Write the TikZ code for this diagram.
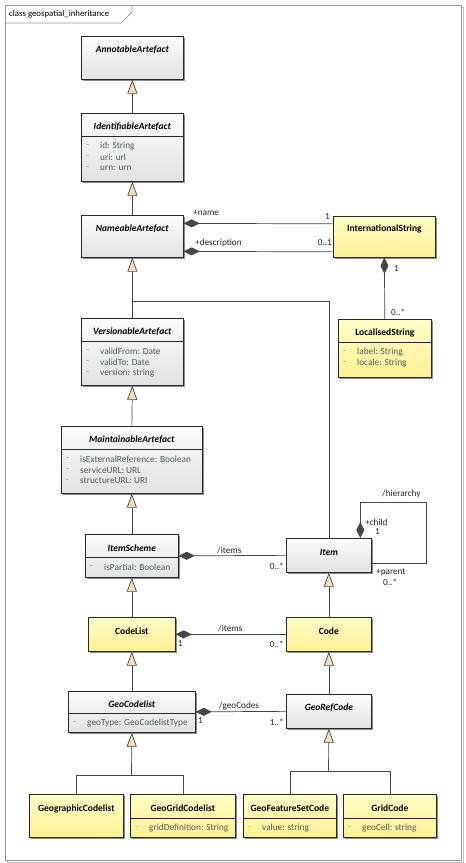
\documentclass[tikz,border=0pt]{standalone}
\usepackage{fontspec}
\setmainfont{Carlito}
\usetikzlibrary{arrows.meta,shadows}
\definecolor{linecol}{RGB}{70,70,70}
\definecolor{boxline}{RGB}{40,40,40}
\definecolor{genfill}{RGB}{245,222,186}
\definecolor{grayA}{RGB}{252,252,252}
\definecolor{grayB}{RGB}{226,226,226}
\definecolor{yelA}{RGB}{255,253,200}
\definecolor{yelB}{RGB}{255,241,150}
\definecolor{attrcol}{RGB}{80,92,92}
\definecolor{framecol}{RGB}{150,150,150}
\newcommand{\umlattr}[4]{%
  \node[dashmark] (#1-d#2) at ([xshift=5pt,yshift=-#3pt]#1.north west) {-};
  \node[attr] (#1-a#2) at ([xshift=19pt,yshift=-#3pt]#1.north west) {#4};}
\newcommand{\umlsep}[1]{%
  \draw[sepline] ([yshift=-23pt]#1.north west) -- ([yshift=-23pt]#1.north east);}
\begin{document}
\begin{tikzpicture}[x=1pt,y=-1pt,
  box/.style={draw=boxline, line width=0.7pt, inner sep=0pt, anchor=north west,
    drop shadow={shadow xshift=1.3pt, shadow yshift=-1.3pt, opacity=0.45, fill=black}},
  graybox/.style={box, top color=grayA, bottom color=grayB},
  yelbox/.style={box, top color=yelA, bottom color=yelB},
  cname/.style={font=\fontsize{9.5}{11}\selectfont\bfseries, inner sep=0pt},
  attr/.style={font=\fontsize{9.3}{11}\selectfont, text=attrcol, inner sep=0pt, anchor=west},
  dashmark/.style={attr, text=attrcol!60},
  lbl/.style={font=\fontsize{9.2}{11}\selectfont, inner sep=0pt, text=black!85},
  conn/.style={draw=linecol, line width=0.7pt},
  gen/.style={conn, -{Triangle[length=14pt,width=10pt,fill=genfill]}},
  comp/.style={conn, {Diamond[length=16pt,width=8pt]}-},
  sepline/.style={draw=boxline, line width=0.6pt}]
\useasboundingbox (0,0) rectangle (466,863);
% frame
\draw[framecol!60, line width=0.8pt] (7,7) rectangle (463,862);
\draw[framecol, line width=0.8pt, fill=white] (5,5) rectangle (461,860);
\draw[framecol, line width=0.7pt] (5,23) -- (121,23) -- (132,12) -- (132,5);
\node[lbl, anchor=west, text=black, font=\fontsize{8.8}{10}\selectfont] (title) at (9,14) {class geospatial\_inheritance};

% classes
\node[graybox, minimum width=102pt, minimum height=43pt] (annot) at (81,36) {};
\node[cname] (annot-n) at ([yshift=-14pt]annot.north) {\textit{AnnotableArtefact}};

\node[graybox, minimum width=102pt, minimum height=68pt] (ident) at (81,113) {};
\node[cname] (ident-n) at ([yshift=-14pt]ident.north) {\textit{IdentifiableArtefact}};
\umlsep{ident}
\umlattr{ident}{1}{33}{id: String}
\umlattr{ident}{2}{44}{uri: url}
\umlattr{ident}{3}{55}{urn: urn}

\node[graybox, minimum width=102pt, minimum height=42pt] (nameable) at (81,215) {};
\node[cname] (nameable-n) at ([yshift=-14pt]nameable.north) {\textit{NameableArtefact}};

\node[yelbox, minimum width=102pt, minimum height=41pt] (intl) at (333,216) {};
\node[cname] (intl-n) at ([yshift=-13pt]intl.north) {InternationalString};

\node[yelbox, minimum width=93pt, minimum height=58pt] (local) at (338,319) {};
\node[cname] (local-n) at ([yshift=-14pt]local.north) {LocalisedString};
\umlsep{local}
\umlattr{local}{1}{33}{label: String}
\umlattr{local}{2}{44}{locale: String}

\node[graybox, minimum width=102pt, minimum height=67pt] (version) at (81,318) {};
\node[cname] (version-n) at ([yshift=-14pt]version.north) {\textit{VersionableArtefact}};
\umlsep{version}
\umlattr{version}{1}{33}{validFrom: Date}
\umlattr{version}{2}{44}{validTo: Date}
\umlattr{version}{3}{55}{version: string}

\node[graybox, minimum width=141pt, minimum height=67pt] (maint) at (61,426) {};
\node[cname] (maint-n) at ([yshift=-14pt]maint.north) {\textit{MaintainableArtefact}};
\umlsep{maint}
\umlattr{maint}{1}{33}{isExternalReference: Boolean}
\umlattr{maint}{2}{44}{serviceURL: URL}
\umlattr{maint}{3}{55}{structureURL: URI}

\node[graybox, minimum width=93pt, minimum height=43pt] (itemscheme) at (85,534) {};
\node[cname] (itemscheme-n) at ([yshift=-14pt]itemscheme.north) {\textit{ItemScheme}};
\umlsep{itemscheme}
\umlattr{itemscheme}{1}{33}{isPartial: Boolean}

\node[graybox, minimum width=85pt, minimum height=34pt] (item) at (286,538) {};
\node[cname] (item-n) at ([yshift=-14pt]item.north) {\textit{Item}};

\node[yelbox, minimum width=87pt, minimum height=34pt] (codelist) at (88,617) {};
\node[cname] (codelist-n) at ([yshift=-14pt]codelist.north) {CodeList};

\node[yelbox, minimum width=85pt, minimum height=34pt] (code) at (286,617) {};
\node[cname] (code-n) at ([yshift=-14pt]code.north) {Code};

\node[graybox, minimum width=127pt, minimum height=41pt] (geocl) at (68,691) {};
\node[cname] (geocl-n) at ([yshift=-13pt]geocl.north) {\textit{GeoCodelist}};
\draw[sepline] ([yshift=-22pt]geocl.north west) -- ([yshift=-22pt]geocl.north east);
\umlattr{geocl}{1}{32}{geoType: GeoCodelistType}

\node[graybox, minimum width=85pt, minimum height=34pt] (georef) at (286,694) {};
\node[cname] (georef-n) at ([yshift=-14pt]georef.north) {\textit{GeoRefCode}};

\node[yelbox, minimum width=94pt, minimum height=43pt] (geographic) at (29,794) {};
\node[cname] (geographic-n) at ([yshift=-15pt]geographic.north) {GeographicCodelist};

\node[yelbox, minimum width=105pt, minimum height=43pt] (geogrid) at (130,794) {};
\node[cname] (geogrid-n) at ([yshift=-14pt]geogrid.north) {GeoGridCodelist};
\draw[sepline] ([yshift=-24pt]geogrid.north west) -- ([yshift=-24pt]geogrid.north east);
\umlattr{geogrid}{1}{34}{gridDefinition: String}

\node[yelbox, minimum width=93pt, minimum height=43pt] (geofeat) at (243,794) {};
\node[cname] (geofeat-n) at ([yshift=-14pt]geofeat.north) {GeoFeatureSetCode};
\draw[sepline] ([yshift=-24pt]geofeat.north west) -- ([yshift=-24pt]geofeat.north east);
\umlattr{geofeat}{1}{34}{value: string}

\node[yelbox, minimum width=93pt, minimum height=43pt] (gridcode) at (343,794) {};
\node[cname] (gridcode-n) at ([yshift=-14pt]gridcode.north) {GridCode};
\draw[sepline] ([yshift=-24pt]gridcode.north west) -- ([yshift=-24pt]gridcode.north east);
\umlattr{gridcode}{1}{34}{geoCell: string}

% junction coordinates
\coordinate (jnv) at (132,301);
\coordinate (jngc) at (131.5,775);
\coordinate (jngr) at (328.5,771);
\coordinate (hier) at (426,502);

% generalizations
\draw[gen] (ident.north) -- (annot.south);
\draw[gen] (nameable.north) -- (ident.south);
\draw[gen] (version.north) -- (nameable.south);
\draw[conn] (item.north) |- (jnv);
\draw[gen] (maint.north) -- (version.south);
\draw[gen] (itemscheme.north) -- (maint.south);
\draw[gen] (codelist.north) -- (itemscheme.south);
\draw[gen] (geocl.north) -- (codelist.south);
\draw[conn] (geographic.north) |- (jngc);
\draw[conn] (geogrid.north) |- (jngc);
\draw[gen] (jngc) -- (geocl.south);
\draw[gen] (code.north) -- (item.south);
\draw[gen] (georef.north) -- (code.south);
\draw[conn] (geofeat.north) |- (jngr);
\draw[conn] (gridcode.north) |- (jngr);
\draw[gen] (jngr) -- (georef.south);

% compositions
\draw[comp] ([yshift=13pt]nameable.east) -- ([yshift=13pt]intl.west);
\draw[comp] ([yshift=-15pt]nameable.east) -- ([yshift=-15pt]intl.west);
\draw[comp] (intl.south) -- (local.north);
\draw[comp] (itemscheme.east) -- (item.west);
\draw[comp] ([xshift=31.5pt]item.north) |- (hier) |- ([yshift=-8pt]item.east);
\draw[comp] (codelist.east) -- (code.west);
\draw[comp] (geocl.east) -- (georef.west);

% labels
\node[lbl, anchor=west] (l-name) at (193,213) {+name};
\node[lbl, anchor=east] (l-name-m) at (330,217) {1};
\node[lbl, anchor=west] (l-desc) at (195,243) {+description};
\node[lbl, anchor=east] (l-desc-m) at (332,243) {0..1};
\node[lbl, anchor=west] (l-is1) at (394,269) {1};
\node[lbl, anchor=west] (l-is2) at (391,312) {0..*};
\node[lbl, anchor=west] (l-items1) at (217,550) {/items};
\node[lbl, anchor=east] (l-items1-m) at (284,566) {0..*};
\node[lbl, anchor=west] (l-hier) at (382,494) {/hierarchy};
\node[lbl, anchor=west] (l-child) at (365,522) {+child};
\node[lbl, anchor=west] (l-child-m) at (375,532) {1};
\node[lbl, anchor=west] (l-parent) at (376,572) {+parent};
\node[lbl, anchor=west] (l-parent-m) at (383,582) {0..*};
\node[lbl, anchor=west] (l-items2) at (218,628) {/items};
\node[lbl, anchor=west] (l-items2-s) at (178,644) {1};
\node[lbl, anchor=east] (l-items2-m) at (284,644) {0..*};
\node[lbl, anchor=west] (l-geo) at (219,706) {/geoCodes};
\node[lbl, anchor=west] (l-geo-s) at (198,721) {1};
\node[lbl, anchor=east] (l-geo-m) at (284,722) {1..*};
\end{tikzpicture}
\end{document}
